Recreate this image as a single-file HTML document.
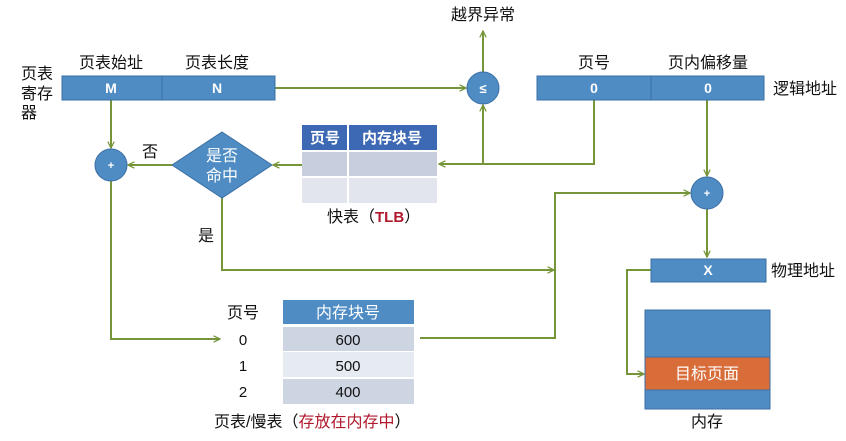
<!DOCTYPE html>
<html><head><meta charset="utf-8"><style>
html,body{margin:0;padding:0;background:#fff}
svg{display:block}
text{font-family:"Liberation Sans","Noto Sans CJK SC",sans-serif;font-size:16px;fill:#111}
.w{fill:#fff;font-size:14px;font-weight:bold}
.k{fill:#111;font-size:15px}
</style></head><body>
<svg width="846" height="441" viewBox="0 0 846 441" xmlns="http://www.w3.org/2000/svg">
<defs>
<marker id="a" viewBox="0 0 10 10" refX="9" refY="5" markerWidth="8" markerHeight="8" orient="auto" markerUnits="userSpaceOnUse">
<path d="M1,1 L9,5 L1,9" fill="none" stroke="#76953a" stroke-width="1.6"/></marker>
</defs>
<g fill="none" stroke="#76953a" stroke-width="2">
<line x1="275" y1="88" x2="466" y2="88" marker-end="url(#a)"/>
<line x1="483" y1="72" x2="483" y2="31" marker-end="url(#a)"/>
<polyline points="594,100 594,164 439,164" marker-end="url(#a)"/>
<line x1="483" y1="164" x2="483" y2="105" marker-end="url(#a)"/>
<line x1="302" y1="165" x2="273" y2="165" marker-end="url(#a)"/>
<line x1="172" y1="165" x2="128" y2="165" marker-end="url(#a)"/>
<line x1="111" y1="100" x2="111" y2="148" marker-end="url(#a)"/>
<polyline points="111,181 111,339 220,339" marker-end="url(#a)"/>
<polyline points="222,198 222,270 554,270" marker-end="url(#a)"/>
<polyline points="420,338 555,338 555,193 690,193" marker-end="url(#a)"/>
<line x1="707" y1="100" x2="707" y2="176" marker-end="url(#a)"/>
<line x1="707" y1="209" x2="707" y2="257" marker-end="url(#a)"/>
<polyline points="651,270 627,270 627,374 644,374" marker-end="url(#a)"/>
</g>
<rect x="62" y="76" width="213" height="24" fill="#4f8cc4" stroke="#3a6fa5"/>
<line x1="162" y1="76" x2="162" y2="100" stroke="#3a6fa5"/>
<text x="111" y="93" class="w" text-anchor="middle">M</text>
<text x="217" y="93" class="w" text-anchor="middle">N</text>
<text x="111" y="68" text-anchor="middle">页表始址</text>
<text x="217" y="68" text-anchor="middle">页表长度</text>
<text x="21" y="79">页表</text>
<text x="21" y="99">寄存</text>
<text x="21" y="118">器</text>
<circle cx="483" cy="88" r="16" fill="#4f8cc4" stroke="#3a6fa5"/>
<text x="483" y="93" class="w" text-anchor="middle" style="font-size:13px">≤</text>
<text x="483" y="20" text-anchor="middle">越界异常</text>
<rect x="537" y="76" width="227" height="24" fill="#4f8cc4" stroke="#3a6fa5"/>
<line x1="651" y1="76" x2="651" y2="100" stroke="#3a6fa5"/>
<text x="594" y="93" class="w" text-anchor="middle">0</text>
<text x="708" y="93" class="w" text-anchor="middle">0</text>
<text x="594" y="68" text-anchor="middle">页号</text>
<text x="708" y="68" text-anchor="middle">页内偏移量</text>
<text x="773" y="94">逻辑地址</text>
<rect x="302" y="125" width="135" height="25" fill="#3d68b3"/>
<rect x="302" y="152" width="135" height="24" fill="#c8cede"/>
<rect x="302" y="178" width="135" height="25" fill="#e2e5ee"/>
<line x1="348" y1="125" x2="348" y2="203" stroke="#fff" stroke-width="2"/>
<text x="325" y="143" class="w" text-anchor="middle" style="font-size:15px">页号</text>
<text x="392" y="143" class="w" text-anchor="middle" style="font-size:15px">内存块号</text>
<text x="327" y="222">快表（<tspan fill="#b0182b" style="font-weight:bold;font-size:15px">TLB</tspan>）</text>
<polygon points="222,132 272,165 222,198 172,165" fill="#4f8cc4" stroke="#3a6fa5"/>
<text x="222" y="161" class="w" text-anchor="middle" style="font-weight:normal;font-size:16px">是否</text>
<text x="222" y="181" class="w" text-anchor="middle" style="font-weight:normal;font-size:16px">命中</text>
<text x="142" y="157">否</text>
<text x="198" y="241">是</text>
<circle cx="111" cy="165" r="16" fill="#4f8cc4" stroke="#3a6fa5"/>
<text x="111" y="169" class="w" text-anchor="middle" style="font-size:11px">+</text>
<circle cx="707" cy="193" r="16" fill="#4f8cc4" stroke="#3a6fa5"/>
<text x="707" y="197" class="w" text-anchor="middle" style="font-size:11px">+</text>
<rect x="651" y="259" width="115" height="23" fill="#4f8cc4" stroke="#3a6fa5"/>
<text x="708" y="275" class="w" text-anchor="middle">X</text>
<text x="771" y="276">物理地址</text>
<rect x="645" y="310" width="125" height="99" fill="#4f8cc4" stroke="#3a6fa5"/>
<rect x="645" y="357" width="125" height="33" fill="#d96d3a" stroke="#3a6fa5"/>
<text x="707" y="379" class="w" text-anchor="middle" style="font-weight:normal;font-size:16px">目标页面</text>
<text x="707" y="427" text-anchor="middle">内存</text>
<rect x="283" y="300" width="131" height="24" fill="#4f8cc4"/>
<rect x="283" y="327" width="131" height="24" fill="#cdd5e2"/>
<rect x="283" y="352" width="131" height="25" fill="#e6eaf1"/>
<rect x="283" y="379" width="131" height="25" fill="#cdd5e2"/>
<text x="348" y="318" class="w" text-anchor="middle" style="font-weight:normal;font-size:16px">内存块号</text>
<text x="348" y="345" class="k" text-anchor="middle">600</text>
<text x="348" y="371" class="k" text-anchor="middle">500</text>
<text x="348" y="397" class="k" text-anchor="middle">400</text>
<text x="243" y="318" text-anchor="middle">页号</text>
<text x="243" y="345" class="k" text-anchor="middle">0</text>
<text x="243" y="371" class="k" text-anchor="middle">1</text>
<text x="243" y="397" class="k" text-anchor="middle">2</text>
<text x="214" y="427">页表/慢表（<tspan fill="#b0182b">存放在内存中</tspan>）</text>
</svg>
</body></html>
